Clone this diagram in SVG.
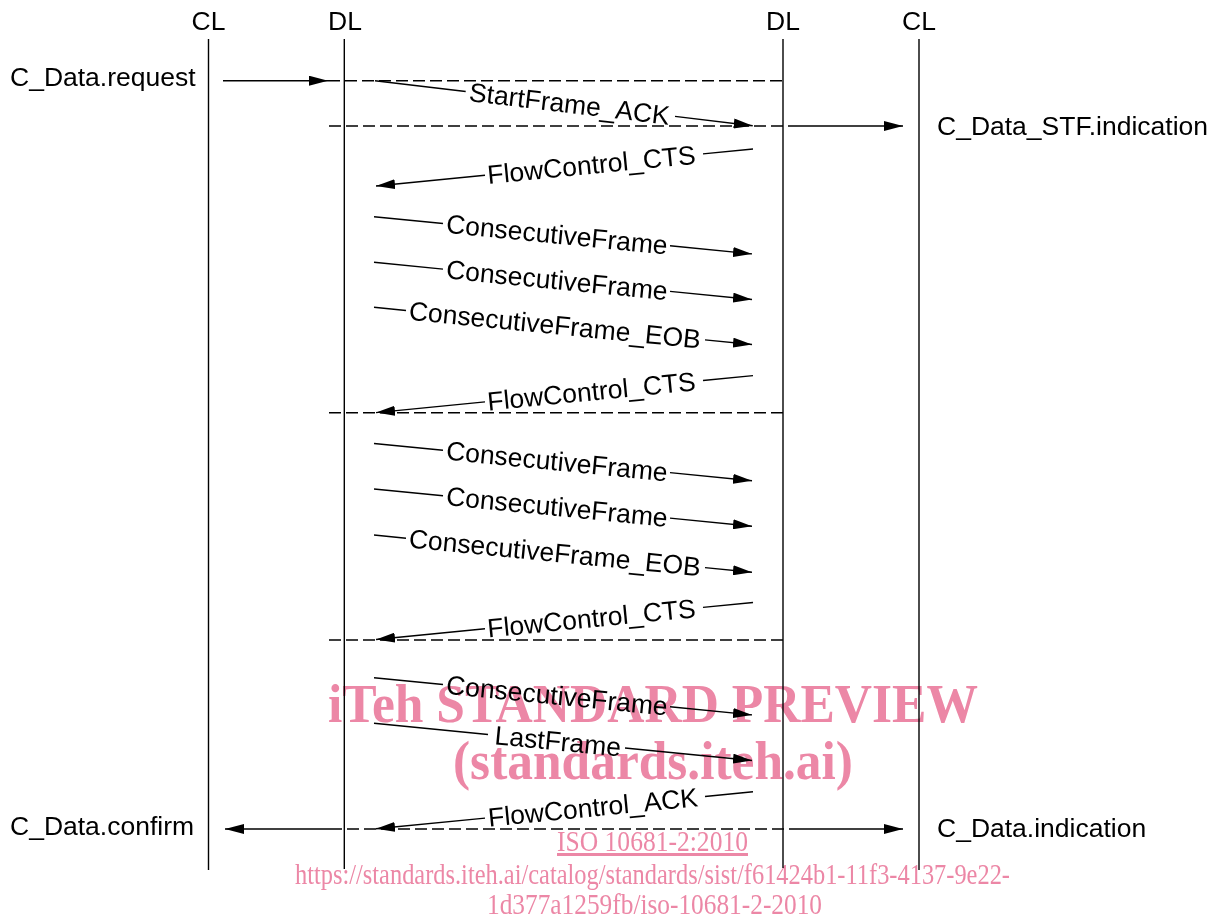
<svg xmlns="http://www.w3.org/2000/svg" width="1216" height="922" viewBox="0 0 1216 922">
<style>
.ll{stroke:#000;stroke-width:1.4;fill:none}
.m{stroke:#000;stroke-width:1.4;fill:none}
.ma{stroke:#000;stroke-width:1.4;fill:none;marker-end:url(#ah)}
.d{stroke:#000;stroke-width:1.4;fill:none;stroke-dasharray:12 5}
.t{font-family:"Liberation Sans",Arial,sans-serif;font-size:26.5px;fill:#000}
.c{text-anchor:middle}
.wm{font-family:"Liberation Serif","Times New Roman",serif;fill:#ec87a6;text-anchor:middle}
.wmb{font-weight:bold;font-size:55px}
.wms{font-size:30px}
</style>
<defs>
<marker id="ah" markerUnits="userSpaceOnUse" viewBox="0 0 19 10" refX="19" refY="5" markerWidth="19" markerHeight="10" orient="auto">
<path d="M0,0 L19,5 L0,10 z" fill="#000"/>
</marker>
</defs>
<rect width="1216" height="922" fill="#fff"/>

<g id="lifeline-cl-left">
<text class="t c" x="208.5" y="29.5">CL</text>
<line class="ll" x1="208.5" y1="39" x2="208.5" y2="870"/>
</g>
<g id="lifeline-dl-left">
<text class="t c" x="345" y="29.5">DL</text>
<line class="ll" x1="344.3" y1="39" x2="344.3" y2="869"/>
</g>
<g id="lifeline-dl-right">
<text class="t c" x="783" y="29.5">DL</text>
<line class="ll" x1="783" y1="39" x2="783" y2="868"/>
</g>
<g id="lifeline-cl-right">
<text class="t c" x="919" y="29.5">CL</text>
<line class="ll" x1="919" y1="39" x2="919" y2="870"/>
</g>

<g id="primitives">
<text class="t" x="10" y="85.5">C_Data.request</text>
<text class="t" x="937" y="134.5">C_Data_STF.indication</text>
<text class="t" x="10" y="835">C_Data.confirm</text>
<text class="t" x="937" y="837">C_Data.indication</text>
</g>

<g id="connectors">
<line class="ma" x1="223" y1="80.7" x2="328" y2="80.7"/>
<line class="d" x1="328" y1="80.7" x2="783" y2="80.7"/>
<line class="d" x1="329" y1="126" x2="797" y2="126"/>
<line class="ma" x1="797" y1="126" x2="903" y2="126"/>
<line class="d" x1="329" y1="412.7" x2="783" y2="412.7"/>
<line class="d" x1="329" y1="640" x2="783" y2="640"/>
<line class="d" x1="330" y1="829" x2="797" y2="829"/>
<line class="ma" x1="330" y1="829" x2="225" y2="829"/>
<line class="ma" x1="797" y1="829" x2="903" y2="829"/>

<line class="m" x1="375" y1="80.7" x2="465.7" y2="91.5"/>
<line class="ma" x1="675" y1="116.4" x2="752.7" y2="125.7"/>
<text class="t c" transform="translate(569.5,103.9) rotate(6.79)" y="9">StartFrame_ACK</text>

<line class="m" x1="753" y1="149" x2="703" y2="153.9"/>
<line class="ma" x1="485" y1="175.3" x2="376" y2="186"/>
<text class="t c" transform="translate(591.5,164.9) rotate(-5.6)" y="9">FlowControl_CTS</text>

<line class="m" x1="374" y1="216.7" x2="443" y2="223.5"/>
<line class="ma" x1="670" y1="245.8" x2="752" y2="253.9"/>
<text class="t c" transform="translate(557,234.7) rotate(5.62)" y="9">ConsecutiveFrame</text>
<line class="m" x1="374" y1="262.3" x2="443" y2="269.1"/>
<line class="ma" x1="670" y1="291.4" x2="752" y2="299.5"/>
<text class="t c" transform="translate(557,280.3) rotate(5.62)" y="9">ConsecutiveFrame</text>
<line class="m" x1="374" y1="307.3" x2="406" y2="310.5"/>
<line class="ma" x1="705" y1="339.9" x2="752" y2="344.5"/>
<text class="t c" transform="translate(555,325.1) rotate(5.62)" y="9">ConsecutiveFrame_EOB</text>

<line class="m" x1="753" y1="375.6" x2="703" y2="380.5"/>
<line class="ma" x1="485" y1="401.9" x2="376" y2="412.6"/>
<text class="t c" transform="translate(591.5,391.5) rotate(-5.6)" y="9">FlowControl_CTS</text>

<line class="m" x1="374" y1="443.5" x2="443" y2="450.3"/>
<line class="ma" x1="670" y1="472.6" x2="752" y2="480.7"/>
<text class="t c" transform="translate(557,461.5) rotate(5.62)" y="9">ConsecutiveFrame</text>
<line class="m" x1="374" y1="489" x2="443" y2="495.8"/>
<line class="ma" x1="670" y1="518.1" x2="752" y2="526.2"/>
<text class="t c" transform="translate(557,507) rotate(5.62)" y="9">ConsecutiveFrame</text>
<line class="m" x1="374" y1="535" x2="406" y2="538.2"/>
<line class="ma" x1="705" y1="567.6" x2="752" y2="572.2"/>
<text class="t c" transform="translate(555,552.8) rotate(5.62)" y="9">ConsecutiveFrame_EOB</text>

<line class="m" x1="753" y1="602.5" x2="703" y2="607.4"/>
<line class="ma" x1="485" y1="628.8" x2="376" y2="639.5"/>
<text class="t c" transform="translate(591.5,618.4) rotate(-5.6)" y="9">FlowControl_CTS</text>

<line class="m" x1="374" y1="677.7" x2="443" y2="684.5"/>
<line class="ma" x1="670" y1="706.8" x2="752" y2="714.9"/>
<text class="t c" transform="translate(557,695.7) rotate(5.62)" y="9">ConsecutiveFrame</text>
<line class="m" x1="374" y1="723.3" x2="488" y2="734.5"/>
<line class="ma" x1="625" y1="748" x2="752" y2="760.5"/>
<text class="t c" transform="translate(558,741.4) rotate(5.62)" y="9">LastFrame</text>

<line class="m" x1="753" y1="791.8" x2="705" y2="796.5"/>
<line class="ma" x1="485" y1="818.1" x2="376" y2="828.8"/>
<text class="t c" transform="translate(593,807.5) rotate(-5.6)" y="9">FlowControl_ACK</text>
</g>

<g id="watermark" style="mix-blend-mode:multiply">
<text class="wm wmb" x="653" y="722" textLength="650" lengthAdjust="spacingAndGlyphs">iTeh STANDARD PREVIEW</text>
<text class="wm wmb" x="653" y="779" textLength="400" lengthAdjust="spacingAndGlyphs">(standards.iteh.ai)</text>
<text class="wm wms" x="652.5" y="851" textLength="191" lengthAdjust="spacingAndGlyphs" text-decoration="underline">ISO 10681-2:2010</text>
<text class="wm wms" x="652.5" y="884" textLength="715" lengthAdjust="spacingAndGlyphs">https://standards.iteh.ai/catalog/standards/sist/f61424b1-11f3-4137-9e22-</text>
<text class="wm wms" x="654.5" y="914" textLength="335" lengthAdjust="spacingAndGlyphs">1d377a1259fb/iso-10681-2-2010</text>
</g>
</svg>
